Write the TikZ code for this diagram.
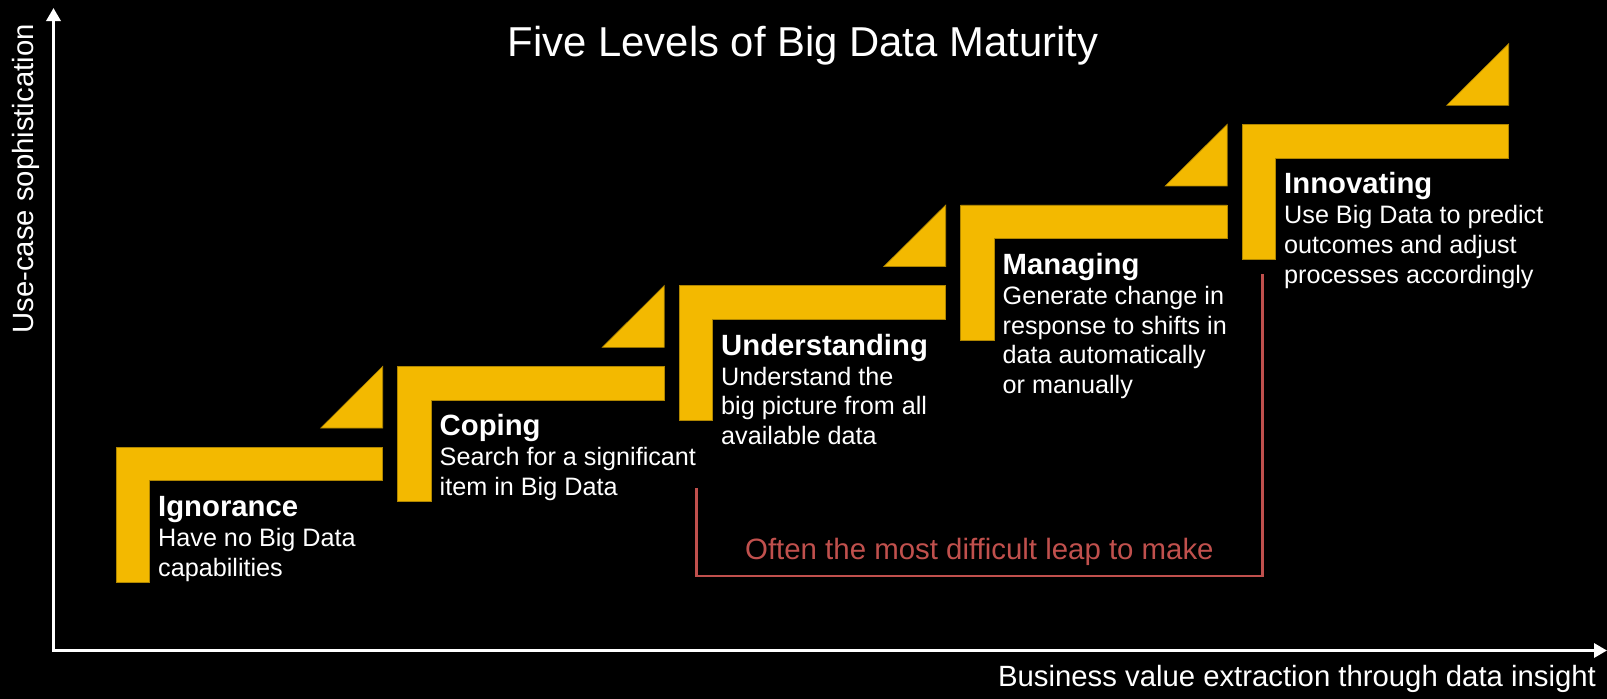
\documentclass[tikz,border=0pt]{standalone}
\usepackage{fontspec}
\setmainfont{Liberation Sans}
\usetikzlibrary{arrows.meta}
\definecolor{ylw}{RGB}{243,185,0}
\definecolor{ylwedge}{RGB}{176,134,0}
\definecolor{leap}{RGB}{192,80,77}
\begin{document}
\begin{tikzpicture}[x=1pt,y=-1pt,
  stepshape/.style={fill=ylw, draw=ylwedge, line width=0.6pt},
  axisline/.style={white, line width=3.5pt, {Triangle[length=13pt,width=14pt]}-{Triangle[length=13pt,width=14pt]}},
  desc/.style={anchor=base west, inner sep=0pt, text=white, font=\fontsize{25.2}{29.8}\selectfont},
  axislabel/.style={inner sep=0pt, text=white, font=\fontsize{29.3}{34}\selectfont},
  leapline/.style={draw=leap, line width=2.5pt},
  lvl/.style={font=\fontsize{29.3}{29.8}\selectfont\bfseries}
]
\fill[black] (0,0) rectangle (1607,699);
\useasboundingbox (0,0) rectangle (1607,699);

% title
\node[anchor=base, inner sep=0pt, text=white, font=\fontsize{41.8}{50}\selectfont] (title) at (803,56.7) {Five Levels of Big Data Maturity};

% axes
\coordinate (origin) at (53.5,650.5);
\coordinate (ytip) at (53.5,8);
\coordinate (xtip) at (1607,650.5);
\draw[axisline] (ytip) -- (origin) -- (xtip);
\node[axislabel, rotate=90, anchor=base] (ylab) at (33.3,179) {Use-case sophistication};
\node[axislabel, anchor=base] (xlab) at (1297,686.7) {Business value extraction through data insight};

% steps
\foreach \i in {0,...,4} {
  \pgfmathsetmacro{\lx}{116+281.5*\i}
  \pgfmathsetmacro{\ty}{447-80.67*\i}
  \pgfmathsetmacro{\rx}{\lx+266.7}
  \filldraw[stepshape] (\lx,\ty) -- (\rx,\ty) -- (\rx,\ty+33.5) -- (\lx+33.3,\ty+33.5)
     -- (\lx+33.3,\ty+135) -- (\lx,\ty+135) -- cycle;
  \filldraw[stepshape] (\rx,\ty-80.67) -- (\rx,\ty-19) -- (\rx-62,\ty-19) -- cycle;
}

\node[desc] (ign) at (158,516.5) {\parbox[t]{340pt}{\raggedright{\fontsize{29.3}{29.8}\selectfont\bfseries Ignorance}\\Have no Big Data\\capabilities}};
\node[desc] (cop) at (439.5,435.8) {\parbox[t]{340pt}{\raggedright{\fontsize{29.3}{29.8}\selectfont\bfseries Coping}\\Search for a significant\\item in Big Data}};
\node[desc] (und) at (721,355.2) {\parbox[t]{340pt}{\raggedright{\fontsize{29.3}{29.8}\selectfont\bfseries Understanding}\\Understand the\\big picture from all\\available data}};
\node[desc] (man) at (1002.5,274.5) {\parbox[t]{340pt}{\raggedright{\fontsize{29.3}{29.8}\selectfont\bfseries Managing}\\Generate change in\\response to shifts in\\data automatically\\or manually}};
\node[desc] (inn) at (1284,193.8) {\parbox[t]{340pt}{\raggedright{\fontsize{29.3}{29.8}\selectfont\bfseries Innovating}\\Use Big Data to predict\\outcomes and adjust\\processes accordingly}};

% leap bracket
\coordinate (leapL) at (696.4,488.3);
\coordinate (leapLB) at (696.4,576);
\coordinate (leapRB) at (1262.5,576);
\coordinate (leapR) at (1262.5,274);
\draw[leapline] (leapL) -- (leapLB) -- (leapRB) -- (leapR);
\node[anchor=base, inner sep=0pt, text=leap, font=\fontsize{29.4}{34}\selectfont] (leaptext) at (979.4,559.3) {Often the most difficult leap to make};
\end{tikzpicture}
\end{document}
